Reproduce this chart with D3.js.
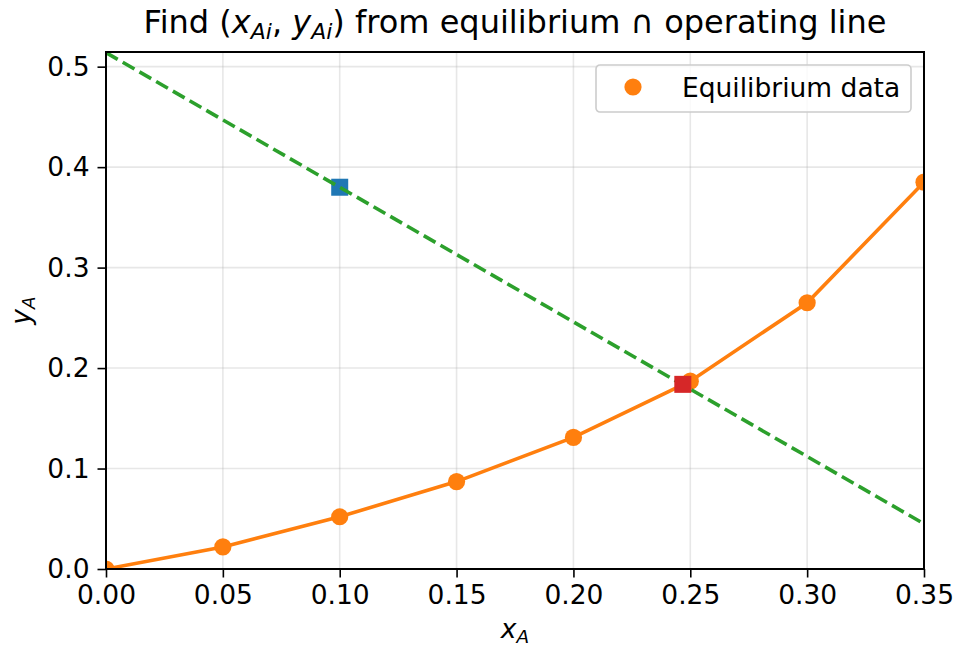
<!DOCTYPE html>
<html>
<head>
<meta charset="utf-8">
<script src="https://cdn.jsdelivr.net/npm/d3@7"></script>
<style>
  body { margin: 0; background: #fff; }
  svg { font-family: "DejaVu Sans", sans-serif; }
</style>
</head>
<body>
<div id="chart"></div>
<script>
// equilibrium data (x_A, y_A)
var eqX = [0.00, 0.05, 0.10, 0.15, 0.20, 0.25, 0.30, 0.35];
var eqY = [0.000, 0.022, 0.052, 0.087, 0.131, 0.187, 0.265, 0.385];
// operating line end points
var opX = [0.00, 0.35];
var opY = [0.514, 0.045];
// bulk point and interface point
var bulk = [0.10, 0.380];
var iface = [0.2468, 0.1838];
var xTicks = [0, 0.05, 0.10, 0.15, 0.20, 0.25, 0.30, 0.35];
var yTicks = [0, 0.1, 0.2, 0.3, 0.4, 0.5];

var W = 956, H = 651;
var m = { left: 106, right: 32, top: 52, bottom: 82 };
var iw = W - m.left - m.right, ih = H - m.top - m.bottom;
var fs = 26.5;

var x = d3.scaleLinear().domain([0, 0.35]).range([0, iw]);
var y = d3.scaleLinear().domain([0, 0.5146]).range([ih, 0]);

var svg = d3.select("#chart").append("svg")
    .attr("width", W)
    .attr("height", H);

svg.append("defs").append("clipPath").attr("id", "clip")
    .append("rect").attr("width", iw).attr("height", ih);

var g = svg.append("g").attr("transform", `translate(${m.left},${m.top})`);

// grid
g.append("g").selectAll("line").data(xTicks).enter().append("line")
    .attr("x1", d => x(d)).attr("x2", d => x(d))
    .attr("y1", 0).attr("y2", ih)
    .attr("stroke", "#b0b0b0").attr("stroke-opacity", 0.3).attr("stroke-width", 1.6);
g.append("g").selectAll("line").data(yTicks).enter().append("line")
    .attr("y1", d => y(d)).attr("y2", d => y(d))
    .attr("x1", 0).attr("x2", iw)
    .attr("stroke", "#b0b0b0").attr("stroke-opacity", 0.3).attr("stroke-width", 1.6);

var plot = g.append("g").attr("clip-path", "url(#clip)");

var eq = eqX.map((d, i) => [d, eqY[i]]);
var line = d3.line().x(d => x(d[0])).y(d => y(d[1]));

plot.append("path").datum(eq)
    .attr("d", line)
    .attr("fill", "none").attr("stroke", "#ff7f0e").attr("stroke-width", 3.6);
plot.selectAll("circle.eq").data(eq).enter().append("circle")
    .attr("class", "eq")
    .attr("cx", d => x(d[0])).attr("cy", d => y(d[1]))
    .attr("r", 8.6).attr("fill", "#ff7f0e");

var sq = 17;
plot.append("rect")
    .attr("x", x(bulk[0]) - sq / 2).attr("y", y(bulk[1]) - sq / 2)
    .attr("width", sq).attr("height", sq).attr("fill", "#1f77b4");

plot.append("path").datum(opX.map((d, i) => [d, opY[i]]))
    .attr("d", line)
    .attr("fill", "none").attr("stroke", "#2ca02c").attr("stroke-width", 3.6)
    .attr("stroke-dasharray", "13.5,5.8");

plot.append("rect")
    .attr("x", x(iface[0]) - sq / 2).attr("y", y(iface[1]) - sq / 2)
    .attr("width", sq).attr("height", sq).attr("fill", "#d62728");

// axes
var xAxis = d3.axisBottom(x).tickValues(xTicks).tickFormat(d3.format(".2f")).tickSizeOuter(0).tickSize(8.5).tickPadding(8);
var yAxis = d3.axisLeft(y).tickValues(yTicks).tickFormat(d3.format(".1f")).tickSizeOuter(0).tickSize(8.5).tickPadding(8);

var gx = g.append("g").attr("transform", `translate(0,${ih})`).call(xAxis);
var gy = g.append("g").call(yAxis);
[gx, gy].forEach(a => {
    a.attr("font-size", fs).attr("font-family", "DejaVu Sans");
    a.select(".domain").remove();
    a.selectAll("line").attr("stroke", "#000").attr("stroke-width", 1.6);
    a.selectAll("text").attr("fill", "#000");
});

g.append("rect")
    .attr("width", iw).attr("height", ih)
    .attr("fill", "none").attr("stroke", "#000").attr("stroke-width", 2);

// legend
var lg = g.append("g").attr("transform", `translate(${596 - m.left},${65 - m.top})`);
lg.append("rect")
    .attr("width", 315).attr("height", 47).attr("rx", 4)
    .attr("fill", "#fff").attr("fill-opacity", 0.8)
    .attr("stroke", "#cccccc").attr("stroke-width", 1.6);
lg.append("circle").attr("cx", 37).attr("cy", 22).attr("r", 8.6).attr("fill", "#ff7f0e");
lg.append("text").attr("x", 86).attr("y", 32)
    .attr("font-size", fs).text("Equilibrium data");

// title
var t = svg.append("text")
    .attr("x", m.left + iw / 2).attr("y", 33)
    .attr("text-anchor", "middle").attr("font-size", 32);
t.append("tspan").text("Find (");
t.append("tspan").attr("font-style", "italic").text("x");
t.append("tspan").attr("font-style", "italic").attr("font-size", 22).attr("dy", 6).text("Ai");
t.append("tspan").attr("dy", -6).text(", ");
t.append("tspan").attr("font-style", "italic").text("y");
t.append("tspan").attr("font-style", "italic").attr("font-size", 22).attr("dy", 6).text("Ai");
t.append("tspan").attr("dy", -6).text(") from equilibrium \u2229 operating line");

// axis labels
var xl = svg.append("text")
    .attr("x", m.left + iw / 2).attr("y", 638)
    .attr("text-anchor", "middle").attr("font-size", fs);
xl.append("tspan").attr("font-style", "italic").text("x");
xl.append("tspan").attr("font-style", "italic").attr("font-size", 18.5).attr("dy", 5).text("A");

var yl = svg.append("text")
    .attr("transform", `translate(30,${m.top + ih / 2}) rotate(-90)`)
    .attr("text-anchor", "middle").attr("font-size", fs);
yl.append("tspan").attr("font-style", "italic").text("y");
yl.append("tspan").attr("font-style", "italic").attr("font-size", 18.5).attr("dy", 5).text("A");
</script>
</body>
</html>
